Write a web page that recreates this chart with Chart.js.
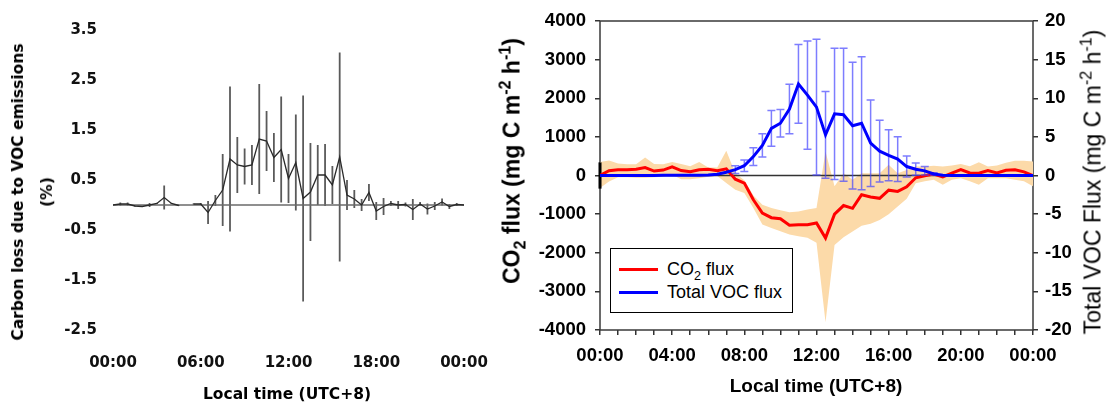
<!DOCTYPE html>
<html>
<head>
<meta charset="utf-8">
<script src="https://cdn.jsdelivr.net/npm/chart.js@4.4.0/dist/chart.umd.min.js"></script>
<style>
  body { margin:0; background:#fff; }
  #page { position:relative; width:1112px; height:403px; overflow:hidden; background:#fff; }
  canvas { position:absolute; top:0; }
  #lossChart { left:0; }
  #fluxChart { left:490px; }
  .t { position:absolute; white-space:nowrap; color:#000; }
  .rot { transform:translate(-50%,-50%) rotate(-90deg); }
  .ctr { transform:translate(-50%,-50%); }
  .dv { font-family:'DejaVu Sans', sans-serif; font-weight:bold; }
  .ls { font-family:'Liberation Sans', Arial, sans-serif; }
  sub, sup { font-size:70%; line-height:0; }
  #legend { position:absolute; left:610px; top:248px; width:183px; height:65px; border:1px solid #000; box-sizing:border-box; background:#fff; font:18px 'Liberation Sans', Arial, sans-serif; }
  #legend .sw { position:absolute; left:8px; width:39px; height:3px; }
  #legend .lb { position:absolute; left:56px; line-height:22px; white-space:nowrap; }
</style>
</head>
<body>
<div id="page">
  <canvas id="lossChart" width="490" height="403"></canvas>
  <canvas id="fluxChart" width="622" height="403"></canvas>

  <div class="t rot dv" style="left:33px;top:192px;font-size:15.5px;line-height:29px;text-align:center">Carbon loss due to VOC emissions<br>(%)</div>
  <div class="t ctr dv" style="left:287px;top:394px;font-size:15.5px">Local time (UTC+8)</div>

  <div class="t rot ls" style="left:512px;top:161px;font-size:23px;font-weight:bold">CO<sub>2</sub> flux (mg C m<sup>-2</sup> h<sup>-1</sup>)</div>
  <div class="t rot ls" style="left:1093px;top:182px;font-size:23px">Total VOC Flux (mg C m<sup>-2</sup> h<sup>-1</sup>)</div>
  <div class="t ctr ls" style="left:816px;top:386px;font-size:19px;font-weight:bold">Local time (UTC+8)</div>

  <div id="legend">
    <span class="sw" style="top:19px;background:#ff0000"></span>
    <span class="lb" style="top:9px">CO<sub>2</sub> flux</span>
    <span class="sw" style="top:42px;background:#0000ff"></span>
    <span class="lb" style="top:32px">Total VOC flux</span>
  </div>
</div>

<script>
// half-hourly diurnal composite
const times = ['00:00','00:30','01:00','01:30','02:00','02:30','03:00','03:30','04:00','04:30',
               '05:00','05:30','06:00','06:30','07:00','07:30','08:00','08:30','09:00','09:30',
               '10:00','10:30','11:00','11:30','12:00','12:30','13:00','13:30','14:00','14:30',
               '15:00','15:30','16:00','16:30','17:00','17:30','18:00','18:30','19:00','19:30',
               '20:00','20:30','21:00','21:30','22:00','22:30','23:00','23:30','24:00'];

// carbon loss due to VOC emissions (%) and its error
const carbonLoss = [0, 0.02, 0.02, -0.02, -0.03, 0.0, 0.03, 0.15, 0.03, -0.01,
                    null, 0.02, 0.02, -0.15, 0.09, 0.3, 0.92, 0.8, 0.77, 0.8,
                    1.32, 1.28, 0.95, 1.11, 0.53, 0.85, 0.13, 0.26, 0.6, 0.6,
                    0.4, 0.96, 0.2, 0.12, 0.0, 0.25, -0.12, -0.03, 0.03, 0.0,
                    0.01, -0.09, 0.02, -0.08, -0.02, 0.06, -0.03, 0.01, 0];
const carbonLossErr = [0, 0.03, 0.03, 0.01, 0.01, 0.04, 0.01, 0.24, 0.01, 0.01,
                       null, 0.01, 0.02, 0.23, 0.11, 0.72, 1.45, 0.56, 0.36, 0.4,
                       1.1, 0.6, 0.49, 1.06, 0.49, 0.96, 2.06, 0.98, 0.6, 0.62,
                       0.38, 2.09, 0.3, 0.18, 0.12, 0.17, 0.18, 0.17, 0.05, 0.08,
                       0.04, 0.21, 0.04, 0.11, 0.08, 0.07, 0.05, 0.03, 0];

// CO2 flux (mg C m-2 h-1) with its spread
const co2 = [0, 125, 146, 146, 163, 206, 115, 140, 224, 129,
             95, 150, 160, 125, 172, -95, -198, -628, -972, -1092,
             -1118, -1290, -1273, -1273, -1230, -1620, -1000, -778, -850, -499,
             -555, -590, -380, -413, -295, -60, -5, 40, -35, 60,
             150, 65, 60, 129, 65, 133, 146, 95, 0];
const co2Upper = [350, 386, 310, 290, 290, 463, 300, 290, 350, 300,
                  240, 350, 210, 210, 644, 60, -120, -520, -760, -840,
                  -900, -950, -930, -880, -840, 620, -280, 60, -110, 60,
                  60, 60, 280, 60, 140, 230, 230, 250, 230, 260,
                  300, 240, 340, 230, 260, 330, 385, 385, 360];
const co2Lower = [-326, -155, -43, -43, -60, -60, -43, -30, 17, -94,
                  -94, -70, -30, -10, -197, -369, -455, -841, -1270, -1356,
                  -1442, -1528, -1571, -1614, -1742, -3800, -1800, -1600, -1450, -1300,
                  -1250, -1150, -1000, -800, -600, -200, -150, -110, -240, -110,
                  -70, -150, -240, -70, -70, -70, -110, -150, -280];
// only the midnight point carries a drawn CO2 error bar
const co2Err = [340];

// total VOC flux (mg C m-2 h-1) and its error
const voc = [0, 0, 0, 0, 0, 0, 0, 0.02, 0.02, 0.02,
             0.02, 0.03, 0.05, 0.17, 0.43, 0.75, 1.27, 2.45, 3.9, 6.1,
             6.77, 8.6, 11.85, 10.4, 8.85, 5.26, 7.98, 7.87, 6.45, 6.77,
             4.18, 3.15, 2.62, 2.13, 1.16, 0.82, 0.6, 0.2, 0.03, 0,
             0, 0, 0, 0, 0, 0, 0, 0, 0];
const vocErr = [null, null, null, null, null, null, null, null, null, null,
                null, null, null, null, null, 0.5, 0.75, 1.15, 1.5, 2.3,
                1.77, 3.2, 5.1, 7.0, 8.8, 5.6, 8.5, 8.6, 8.2, 8.6,
                5.6, 4.0, 3.3, 2.9, 1.37, 0.8, 0.55, 0.15, null, null,
                null, null, null, null, null, null, null, null, null];

const hours = times.map(t => Number(t.slice(0, 2)) + Number(t.slice(3)) / 60);
const pts = arr => hours.map((h, i) => ({ x: h, y: arr[i] }));
const hhmm = v => String(v % 24).padStart(2, '0') + ':00';

// vertical error bars, read from dataset.errorBars
const errorBars = {
    id: 'errorBars',
    beforeDatasetDraw(chart, args) {
        const ds = chart.data.datasets[args.index];
        if (!ds.errorBars) return;
        const xs = chart.scales[args.meta.xAxisID];
        const ys = chart.scales[args.meta.yAxisID];
        const c = chart.ctx;
        const cap = ds.errorCap || 0;
        c.save();
        c.strokeStyle = ds.errorColor;
        c.lineWidth = ds.errorWidth;
        ds.data.forEach((p, i) => {
            const e = ds.errorBars[i];
            if (p.y == null || e == null || e === 0) return;
            const x = xs.getPixelForValue(p.x);
            const y0 = ys.getPixelForValue(p.y - e);
            const y1 = ys.getPixelForValue(p.y + e);
            c.beginPath();
            c.moveTo(x, y0);
            c.lineTo(x, y1);
            if (cap) {
                c.moveTo(x - cap, y0); c.lineTo(x + cap, y0);
                c.moveTo(x - cap, y1); c.lineTo(x + cap, y1);
            }
            c.stroke();
        });
        c.restore();
    }
};

// zero reference line, drawn before the dataset flagged with zeroLineBefore
const zeroLine = {
    id: 'zeroLine',
    beforeDatasetDraw(chart, args) {
        const ds = chart.data.datasets[args.index];
        if (!ds.zeroLineBefore) return;
        const a = chart.chartArea;
        const y = chart.scales[args.meta.yAxisID].getPixelForValue(0);
        const c = chart.ctx;
        c.save();
        c.strokeStyle = ds.zeroLineBefore;
        c.lineWidth = 1.5;
        c.beginPath();
        c.moveTo(a.left, y);
        c.lineTo(a.right, y);
        c.stroke();
        c.restore();
    }
};

// box round the plot area
const frame = {
    id: 'frame',
    beforeDatasetsDraw(chart) {
        const a = chart.chartArea;
        const c = chart.ctx;
        c.save();
        c.strokeStyle = '#3a3a3a';
        c.lineWidth = 1.5;
        c.strokeRect(a.left, a.top, a.right - a.left, a.bottom - a.top);
        c.restore();
    }
};

function fixBox(w, h) {
    return s => {
        if (w != null) s.width = w;
        if (h != null) s.height = h;
        s.paddingLeft = 0; s.paddingRight = 0;
        s.paddingTop = 0; s.paddingBottom = 0;
    };
}

const dvFont = { family: 'DejaVu Sans', size: 15, weight: 'bold' };
const lsFont = { family: 'Liberation Sans', size: 18.5, weight: 'bold' };
const noGrid = { display: false, drawTicks: false, tickLength: 0 };

// LEFT: carbon loss
new Chart(document.getElementById('lossChart'), {
    type: 'line',
    data: {
        datasets: [{
            data: pts(carbonLoss),
            borderColor: '#2a2a2a',
            borderWidth: 1.3,
            pointRadius: 0,
            tension: 0,
            spanGaps: false,
            errorBars: carbonLossErr,
            errorColor: '#5a5a5a',
            errorWidth: 1.8,
            zeroLineBefore: '#6a6a6a'
        }]
    },
    options: {
        responsive: false,
        animation: false,
        layout: { padding: { top: 30, right: 26, left: 0, bottom: 0 } },
        plugins: { legend: { display: false }, tooltip: { enabled: false } },
        scales: {
            x: {
                type: 'linear', min: 0, max: 24,
                grid: noGrid, border: { display: false },
                ticks: { stepSize: 6, padding: 24, color: '#111', font: dvFont, maxRotation: 0, callback: hhmm },
                afterFit: fixBox(null, 73)
            },
            y: {
                min: -2.5, max: 3.5,
                grid: noGrid, border: { display: false },
                ticks: { stepSize: 1, padding: 16, color: '#111', font: dvFont, callback: v => v.toFixed(1) },
                afterFit: fixBox(113, null)
            }
        }
    },
    plugins: [errorBars, zeroLine]
});

// RIGHT: CO2 and VOC fluxes
const tickGrid = { drawOnChartArea: false, drawTicks: true, tickLength: 5, color: '#333', lineWidth: 1.5 };

new Chart(document.getElementById('fluxChart'), {
    type: 'line',
    data: {
        datasets: [
            {
                label: 'Total VOC flux',
                data: pts(voc),
                yAxisID: 'y1',
                borderColor: '#0000ff',
                borderWidth: 3,
                pointRadius: 0,
                fill: false,
                errorBars: vocErr,
                errorColor: 'rgba(70,70,255,0.7)',
                errorWidth: 1.5,
                errorCap: 4
            },
            {
                label: 'CO2 flux',
                data: pts(co2),
                borderColor: '#ff0000',
                borderWidth: 3,
                pointRadius: 0,
                fill: false,
                zeroLineBefore: '#333',
                errorBars: co2Err,
                errorColor: '#000',
                errorWidth: 3
            },
            {
                label: 'CO2 upper',
                data: pts(co2Upper),
                borderWidth: 0,
                borderColor: 'rgba(0,0,0,0)',
                backgroundColor: '#fcdaa9',
                pointRadius: 0,
                fill: '+1'
            },
            {
                label: 'CO2 lower',
                data: pts(co2Lower),
                borderWidth: 0,
                borderColor: 'rgba(0,0,0,0)',
                pointRadius: 0,
                fill: false
            }
        ]
    },
    options: {
        responsive: false,
        animation: false,
        layout: { padding: { top: 21, right: 0, left: 0, bottom: 0 } },
        plugins: { legend: { display: false }, tooltip: { enabled: false } },
        scales: {
            x: {
                type: 'linear', min: 0, max: 24,
                grid: tickGrid, border: { display: false },
                ticks: {
                    stepSize: 1, autoSkip: false, maxRotation: 0, padding: 10,
                    color: '#000', font: lsFont,
                    callback: v => (v % 4 === 0 ? hhmm(v) : '')
                },
                afterFit: fixBox(null, 73)
            },
            y: {
                position: 'left', min: -4000, max: 4000,
                grid: tickGrid, border: { display: false },
                ticks: { stepSize: 1000, padding: 9, color: '#000', font: lsFont, callback: v => String(v) },
                afterFit: fixBox(110, null)
            },
            y1: {
                position: 'right', min: -20, max: 20,
                grid: tickGrid, border: { display: false },
                ticks: { stepSize: 5, padding: 7, color: '#000', font: lsFont, callback: v => String(v) },
                afterFit: fixBox(79, null)
            }
        }
    },
    plugins: [frame, errorBars, zeroLine]
});
</script>
</body>
</html>
